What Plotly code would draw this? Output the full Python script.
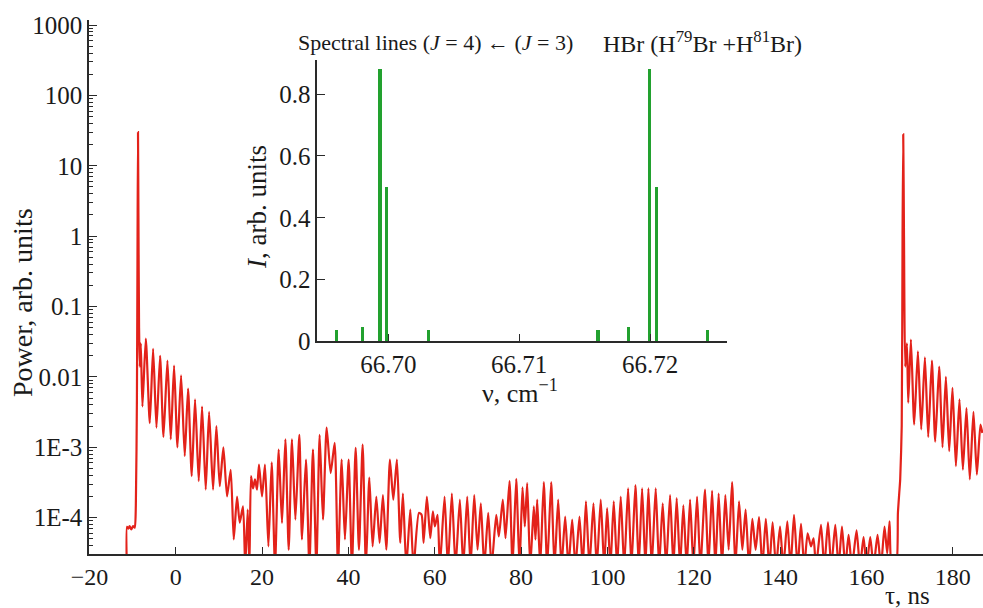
import plotly.graph_objects as go

# ---------------- data: main trace (tau in ns, power in arb. units) ----------------
tau_pre = [-11.35, -11.3, -11.0, -10.7, -10.3, -9.9, -9.5, -9.25, -9.0, -8.85, -8.75, -8.65, -8.5]
power_pre = [2e-5, 7.4e-5, 7.0e-5, 7.6e-5, 6.8e-5, 7.6e-5, 7.2e-5, 1.5e-4, 5e-3, 1.0, 30, 2.0, 0.05]

tau_decay = [-8.33, -8.10, -7.72, -6.94, -6.02, -5.25, -4.47, -3.63, -2.85, -1.93, -1.16, -0.39, 0.39, 1.23,
             2.08, 2.85, 3.70, 4.47, 5.32, 6.09, 6.94, 7.72, 8.64, 9.41, 10.19, 11.03, 11.88, 12.73]
power_decay = [1.4e-2, 3.0e-2, 3.8e-3, 3.5e-2, 2.2e-3, 2.5e-2, 1.9e-3, 2.0e-2, 1.4e-3, 1.7e-2, 1.3e-3, 1.45e-2,
               1.0e-3, 1.05e-2, 7.5e-4, 6.8e-3, 3.9e-4, 4.8e-3, 3.3e-4, 3.8e-3, 2.5e-4, 3.2e-3, 2.5e-4, 2.0e-3,
               2.8e-4, 1.0e-3, 2.0e-4, 4.8e-4]

tau_mid1 = [13.43, 14.19, 14.81, 15.58, 16.09, 16.67, 17.06, 17.43, 17.89, 18.36, 18.82, 19.28, 19.98, 20.67,
            21.46, 22.22, 22.99, 23.84, 24.61, 25.39, 26.16, 26.92, 27.71, 28.63, 29.24, 30.16, 30.95, 31.78,
            32.57, 33.33, 34.10, 34.95, 35.88, 36.81, 37.57, 38.43, 39.19, 40.05, 40.81, 41.67, 42.43, 43.29,
            44.05, 44.84, 45.60, 46.46, 47.22, 47.99, 48.77, 49.61, 50.39, 51.23, 52.01]
power_mid1 = [4.9e-5, 2.0e-4, 8.5e-5, 1.45e-4, 2e-5, 1.3e-4, 2e-5, 3.9e-4, 2.6e-4, 3.5e-4, 2.5e-4, 5.7e-4,
              2.0e-4, 5.7e-4, 3.9e-5, 6.1e-4, 2e-5, 9.3e-4, 8.4e-5, 1.3e-3, 3.5e-5, 1.3e-3, 9.4e-5, 1.5e-3,
              4.9e-5, 6.7e-4, 2e-5, 9.3e-4, 2e-5, 1.5e-3, 9.4e-5, 1.9e-3, 4.3e-4, 1.16e-3, 2e-5, 6.7e-4,
              4.9e-5, 6.7e-4, 2e-5, 9.8e-4, 3.5e-5, 1.09e-3, 2e-5, 3.7e-4, 3.9e-5, 2.0e-4, 4.4e-5, 2.1e-4,
              3.5e-5, 6.7e-4, 1.8e-4, 6.7e-4, 4.4e-5]

tau_mid2 = [52.62, 53.40, 54.33, 55.09, 56.32, 56.94, 57.41, 58.17, 58.96, 59.56, 60.02, 60.65, 61.18, 62.27,
            63.03, 63.96, 64.81, 65.81, 66.60, 67.52, 68.29, 69.14, 69.91, 70.67, 71.46, 72.38, 73.15, 74.24,
            74.84, 75.76, 76.39, 77.31, 78.01, 78.87, 79.63, 80.32, 80.86, 81.41, 82.11, 82.94, 83.33, 83.73,
            84.42, 85.25, 86.04, 86.97, 87.73, 88.59, 89.35, 90.21, 90.97, 91.83, 92.59, 93.52, 94.28]
power_mid2 = [2.2e-4, 2e-5, 1.3e-4, 2e-5, 1.17e-4, 1.1e-4, 4.4e-5, 2.0e-4, 5.1e-5, 1.23e-4, 7.5e-5, 1.1e-4,
              2e-5, 2.0e-4, 2e-5, 2.2e-4, 2e-5, 1.8e-4, 2e-5, 2.0e-4, 2e-5, 2.1e-4, 3.5e-5, 1.6e-4, 2e-5,
              1.17e-4, 2e-5, 1.1e-4, 5.4e-5, 1.8e-4, 5.1e-5, 3.3e-4, 2e-5, 3.55e-4, 2e-5, 2.7e-4, 7.5e-5,
              3.1e-4, 2e-5, 1.45e-4, 4.9e-5, 1.8e-4, 2e-5, 3.2e-4, 2e-5, 3.2e-4, 2e-5, 1.8e-4, 2e-5, 1.04e-4,
              2e-5, 9.4e-5, 2e-5, 1.04e-4, 2e-5]

tau_mid3 = [95.02, 95.83, 96.76, 97.52, 98.45, 99.24, 99.93, 100.69, 101.46, 102.24,
            103.08, 103.87, 104.79, 105.56, 106.48, 107.25, 108.03, 108.80, 109.49, 110.25,
            111.18, 111.97, 112.80, 113.59, 114.51, 115.28, 116.04, 116.83, 117.59, 118.36,
            119.14, 119.91, 120.76, 121.53, 122.62, 123.38, 124.24, 125.00, 125.76, 126.55,
            127.31, 128.08, 128.87, 129.63, 130.49, 131.25, 132.01, 132.80, 133.56, 134.33,
            135.12, 135.88, 136.69, 137.50, 138.26, 139.05, 139.98, 140.74, 141.67, 142.43,
            143.22, 144.05, 144.84, 145.60, 146.37, 147.15, 147.75, 148.31, 149.47, 150.23,
            151.09, 151.85, 152.78, 153.54, 154.33, 155.09, 155.86, 156.64, 157.71, 158.50,
            159.33, 160.02, 160.88, 161.64, 162.57, 163.36, 164.19, 164.81, 165.35, 165.90,
            166.83]
power_mid3 = [1.7e-4, 2e-5, 1.6e-4, 2e-5, 1.8e-4, 2e-5, 1.37e-4, 2e-5, 1.7e-4, 2e-5,
              2.0e-4, 2e-5, 2.6e-4, 2e-5, 2.9e-4, 2e-5, 2.6e-4, 2e-5, 2.6e-4, 2e-5,
              2.6e-4, 2e-5, 1.6e-4, 2e-5, 2.1e-4, 2e-5, 1.9e-4, 2e-5, 1.5e-4, 2e-5,
              1.8e-4, 2e-5, 2.0e-4, 2e-5, 2.5e-4, 2e-5, 2.4e-4, 2e-5, 2.2e-4, 2e-5,
              2.1e-4, 3.5e-5, 3.2e-4, 2e-5, 1.7e-4, 3.5e-5, 1.3e-4, 2e-5, 9.6e-5, 3.5e-5,
              1.02e-4, 2e-5, 9.6e-5, 2e-5, 8.6e-5, 2e-5, 7.5e-5, 2e-5, 8.9e-5, 2e-5,
              1.1e-4, 2e-5, 8.2e-5, 2e-5, 6.0e-5, 3.9e-5, 5.1e-5, 2e-5, 7.9e-5, 2e-5,
              8.6e-5, 2e-5, 7.9e-5, 2e-5, 7.5e-5, 2e-5, 5.7e-5, 2e-5, 6.6e-5, 2e-5,
              5.3e-5, 2e-5, 5.3e-5, 2e-5, 5.7e-5, 2e-5, 7.5e-5, 3.1e-5, 8.9e-5, 2e-5,
              2e-5]

tau_echo = [167.29, 167.59, 167.82, 168.17, 168.36, 168.52, 168.70, 168.98, 169.38, 169.68, 170.30, 171.06,
            171.92, 172.69, 173.54, 174.31, 175.16, 175.93, 176.85, 177.62, 178.40, 179.17, 179.93, 180.72,
            181.55, 182.34, 183.17, 183.94, 184.79, 185.58, 186.41, 186.85]
power_echo = [1.17e-4, 2.2e-4, 3.5e-4, 2.0e-3, 1.0, 28, 1.0, 1.4e-2, 3.0e-2, 4.3e-3, 3.4e-2, 2.1e-3,
              2.3e-2, 1.8e-3, 1.9e-2, 1.4e-3, 1.7e-2, 1.2e-3, 1.4e-2, 1.0e-3, 1.0e-2, 8.8e-4, 7.0e-3, 5.4e-4,
              4.8e-3, 4.8e-4, 3.6e-3, 3.5e-4, 3.2e-3, 4.1e-4, 2.1e-3, 1.6e-3]

# ---------------- data: inset spectral lines ----------------
nu_lines = [66.69606, 66.69807, 66.69937, 66.69988, 66.70309, 66.71605, 66.71839, 66.72000, 66.72051, 66.72443]
intensity_lines = [0.038, 0.048, 0.88, 0.50, 0.038, 0.038, 0.048, 0.88, 0.50, 0.038]

# tick labels
x_ticks = [-20, 0, 20, 40, 60, 80, 100, 120, 140, 160, 180]
y_ticks = [1e-4, 1e-3, 1e-2, 1e-1, 1, 10, 100, 1000]
y_ticktext = ["1E-4", "1E-3", "0.01", "0.1", "1", "10", "100", "1000"]
inset_x_ticks = [66.70, 66.71, 66.72]
inset_x_ticktext = ["66.70", "66.71", "66.72"]
inset_y_ticks = [0, 0.2, 0.4, 0.6, 0.8]
inset_y_ticktext = ["0", "0.2", "0.4", "0.6", "0.8"]

tau = tau_pre + tau_decay + tau_mid1 + tau_mid2 + tau_mid3 + tau_echo
power = power_pre + power_decay + power_mid1 + power_mid2 + power_mid3 + power_echo

FONT = "Liberation Serif, Times New Roman, serif"
AX = "#2a2a2a"
TXT = "#1a1a1a"

fig = go.Figure()
fig.add_trace(go.Scatter(x=tau, y=power, mode="lines",
                         line=dict(color="#e3221a", width=2.2, shape="spline", smoothing=0.6),
                         xaxis="x", yaxis="y", hoverinfo="skip"))
fig.add_trace(go.Bar(x=nu_lines, y=intensity_lines, width=0.00026,
                     marker=dict(color="#22a12f", line=dict(width=0)),
                     xaxis="x2", yaxis="y2", hoverinfo="skip"))

minor_vals = [m * 10.0 ** e for e in range(-5, 3) for m in range(2, 10)]

common = dict(showline=True, linecolor=AX, linewidth=1.5, showgrid=False,
              zeroline=False, automargin=False, tickcolor=AX, tickwidth=1.3)

fig.update_layout(
    width=983, height=608,
    margin=dict(l=89, r=0, t=20, b=54),
    paper_bgcolor="white", plot_bgcolor="white",
    showlegend=False,
    font=dict(family=FONT, color=TXT, size=24),
    xaxis=dict(range=[-20.1, 187.0], tickmode="array", tickvals=x_ticks,
               ticks="inside", ticklen=7,
               tickfont=dict(family=FONT, size=24, color=TXT), **common),
    yaxis=dict(type="log", range=[-4.516, 3.071], tickmode="array",
               tickvals=y_ticks, ticktext=y_ticktext,
               ticks="inside", ticklen=8,
               minor=dict(tickmode="array", tickvals=minor_vals, ticks="inside",
                          ticklen=4, tickwidth=1, tickcolor=AX, showgrid=False),
               tickfont=dict(family=FONT, size=25, color=TXT), **common),
    xaxis2=dict(domain=[0.2554, 0.7133], anchor="y2", range=[66.69457, 66.72586],
                tickmode="array", tickvals=inset_x_ticks, ticktext=inset_x_ticktext,
                ticks="inside", ticklen=8,
                tickfont=dict(family=FONT, size=25, color=TXT), **common),
    yaxis2=dict(domain=[0.398, 0.925], anchor="x2", range=[0, 0.91],
                tickmode="array", tickvals=inset_y_ticks, ticktext=inset_y_ticktext,
                ticks="inside", ticklen=8,
                tickfont=dict(family=FONT, size=25, color=TXT), **common),
    bargap=0,
)

ann_font = dict(family=FONT, size=27, color=TXT)
fig.add_annotation(text="Power, arb. units", xref="paper", yref="paper",
                   x=-0.0749, y=0.47, textangle=-90, showarrow=False,
                   xanchor="center", yanchor="middle", font=dict(family=FONT, size=28, color=TXT))
fig.add_annotation(text="τ, ns", xref="paper", yref="paper",
                   x=0.915, y=-0.077, showarrow=False,
                   xanchor="center", yanchor="middle", font=dict(family=FONT, size=25, color=TXT))
fig.add_annotation(text="Spectral lines (<i>J</i> = 4) ← (<i>J</i> = 3)",
                   xref="paper", yref="paper", x=0.2315, y=0.9588, showarrow=False,
                   xanchor="left", yanchor="middle",
                   font=dict(family=FONT, size=22, color=TXT))
fig.add_annotation(text="HBr (H<sup>79</sup>Br +H<sup>81</sup>Br)",
                   xref="paper", yref="paper", x=0.5727, y=0.9588, showarrow=False,
                   xanchor="left", yanchor="middle",
                   font=dict(family=FONT, size=24, color=TXT))
fig.add_annotation(text="<i>I</i>, arb. units", xref="paper", yref="paper",
                   x=0.1879, y=0.650, textangle=-90, showarrow=False,
                   xanchor="center", yanchor="middle", font=ann_font)
fig.add_annotation(text="ν, cm<sup>−1</sup>", xref="paper", yref="paper",
                   x=0.4821, y=0.305, showarrow=False,
                   xanchor="center", yanchor="middle", font=dict(family=FONT, size=26, color=TXT))

fig.write_html("out.html", config={"displayModeBar": False},
               post_script="document.body.style.margin='0';document.body.style.overflow='hidden';")
